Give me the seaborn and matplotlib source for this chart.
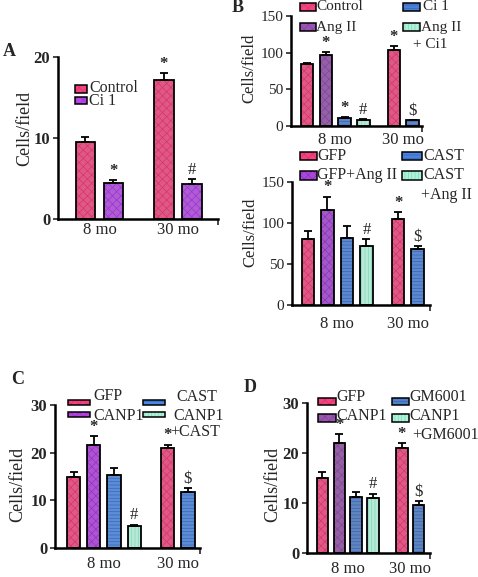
import numpy as np
import pandas as pd
import matplotlib
matplotlib.use("Agg")
import matplotlib.pyplot as plt
from matplotlib.colors import to_rgba
from matplotlib.patches import Rectangle
import seaborn as sns

# ---- values ----
A_age = ["8 mo", "8 mo", "30 mo", "30 mo"]
A_group = ["Control", "Ci 1", "Control", "Ci 1"]
A_cells = [9.5, 4.4, 17.2, 4.3]
A_err = [0.6, 0.4, 0.8, 0.6]
A_mark = ["", "*", "*", "#"]

B1_age = ["8 mo"] * 4 + ["30 mo"] * 2
B1_group = ["Control", "Ang II", "Ci 1", "Ang II + Ci1", "Control", "Ci 1"]
B1_cells = [84, 97, 11.4, 8.5, 104, 7.5]
B1_err = [2.5, 4, 1, 0.5, 4.5, 0.5]
B1_mark = ["", "*", "*", "#", "*", "$"]

B2_age = ["8 mo"] * 4 + ["30 mo"] * 2
B2_group = ["GFP", "GFP+Ang II", "CAST", "CAST+Ang II", "GFP", "CAST"]
B2_cells = [80, 116, 82, 72, 105, 68]
B2_err = [10, 16, 14, 8, 8, 4]
B2_mark = ["", "*", "", "#", "*", "$"]

C_age = ["8 mo"] * 4 + ["30 mo"] * 2
C_group = ["GFP", "CANP1", "CAST", "CANP1+CAST", "GFP", "CAST"]
C_cells = [14.8, 21.6, 15.4, 4.6, 20.9, 11.7]
C_err = [1.2, 1.8, 1.4, 0.3, 0.8, 0.8]
C_mark = ["", "*", "", "#", "*", "$"]

D_age = ["8 mo"] * 4 + ["30 mo"] * 2
D_group = ["GFP", "CANP1", "GM6001", "CANP1+GM6001", "GFP", "GM6001"]
D_cells = [15.0, 22.0, 11.2, 11.0, 21.1, 9.6]
D_err = [1.2, 1.8, 1.0, 0.9, 0.9, 0.8]
D_mark = ["", "*", "", "#", "*", "$"]

# ---- styles: face colour, hatch, hatch colour ----
PINK = ("#F2447E", "xxxx", "#E0306C")
GREEN = ("#AEF2D8", "|||||", "#80D8B8")

W, H = 478, 577

sns.set_theme(style="ticks")
plt.rcParams["font.family"] = ["Liberation Serif", "DejaVu Serif"]
plt.rcParams["hatch.linewidth"] = 0.5

fig = plt.figure(figsize=(W / 100, H / 100), dpi=100)


def box(l, t, r, b):
    return [l / W, 1 - b / H, (r - l) / W, (b - t) / H]


def ftext(x, y, s, **kw):
    kw.setdefault("va", "center")
    fig.text(x / W, 1 - y / H, s, **kw)


def legend_patch(x, y, w, h, st):
    r = Rectangle((x / W, 1 - (y + h / 2) / H), w / W, h / H, transform=fig.transFigure,
                  facecolor=st[0], edgecolor="black", linewidth=1.1, hatch=st[1])
    r._hatch_color = to_rgba(st[2])
    fig.patches.append(r)


PANELS = [
    dict(age=A_age, group=A_group, cells=A_cells, err=A_err, mark=A_mark,
         box=(58, 57, 218, 219), xlim=(-0.98, 4.73), gap=1.8, width=0.7,
         ylim=(0, 20), yticks=[0, 10, 20], ybold=True, xpad=2, tickfs=12,
         style={"Control": PINK, "Ci 1": ("#B64AE6", "xxxx", "#A030D8")},
         letter=("A", 9, 52), ylab=(25, 128, 13),
         legend=[(75, 89, 12, 8, "Control", "Control", 89, 88),
                 (75, 100, 12, 7, "Ci 1", "Ci 1", 89, 101)],
         extra=[], legfs=11.5),
    dict(age=B1_age, group=B1_group, cells=B1_cells, err=B1_err, mark=B1_mark,
         box=(291, 16, 422, 126), xlim=(-0.85, 6.12), gap=1.62, width=0.66,
         ylim=(0, 150), yticks=[0, 50, 100, 150], ybold=False, xpad=4, tickfs=11,
         style={"Control": PINK, "Ang II": ("#9A55B2", "xxxx", "#8444A0"),
                "Ci 1": ("#4A80D8", "-----", "#3466B8"), "Ang II + Ci1": GREEN},
         letter=("B", 238, 8), ylab=(249, 68, 12),
         legend=[(300, 7, 16, 8, "Control", "Control", 316, 7),
                 (300, 27, 16, 8, "Ang II", "Ang II", 316, 27),
                 (403, 7, 17, 8, "Ci 1", "Ci 1", 423, 7),
                 (403, 27, 17, 8, "Ang II + Ci1", "Ang II", 421, 27)],
         extra=[("+ Ci1", 413, 45)], legfs=11),
    dict(age=B2_age, group=B2_group, cells=B2_cells, err=B2_err, mark=B2_mark,
         box=(292, 182, 430, 305), xlim=(-0.82, 6.26), gap=1.62, width=0.66,
         ylim=(0, 150), yticks=[0, 50, 100, 150], ybold=False, xpad=8, tickfs=11,
         style={"GFP": PINK, "GFP+Ang II": ("#A847D8", "xxxx", "#9030C4"),
                "CAST": ("#4A84E0", "-----", "#3466B8"), "CAST+Ang II": GREEN},
         letter=None, ylab=(250, 232, 12),
         legend=[(300, 156, 17, 8, "GFP", "GFP", 317, 156),
                 (300, 175, 17, 9, "GFP+Ang II", "GFP+Ang II", 317, 175),
                 (402, 156, 20, 8, "CAST", "CAST", 423, 156),
                 (402, 175, 20, 9, "CAST+Ang II", "CAST", 423, 175)],
         extra=[("+Ang II", 421, 195)], legfs=11.5),
    dict(age=C_age, group=C_group, cells=C_cells, err=C_err, mark=C_mark,
         box=(55, 405, 200, 548), xlim=(-0.92, 6.26), gap=1.66, width=0.66,
         ylim=(0, 30), yticks=[0, 10, 20, 30], ybold=True, xpad=6, tickfs=12,
         style={"GFP": PINK, "CANP1": ("#B442E2", "xxxx", "#9C2CD0"),
                "CAST": ("#4A88E6", "-----", "#3468C0"), "CANP1+CAST": GREEN},
         letter=("C", 18, 379), ylab=(18, 484, 13),
         legend=[(68, 402, 22, 5, "GFP", "GFP", 93, 396),
                 (68, 414, 22, 5, "CANP1", "CANP1", 93, 416),
                 (143, 402, 22, 5, "CAST", "CAST", 176, 397),
                 (143, 414, 22, 5, "CANP1+CAST", "CANP1", 173, 416)],
         extra=[("+CAST", 170, 432)], legfs=11.5),
    dict(age=D_age, group=D_group, cells=D_cells, err=D_err, mark=D_mark,
         box=(307, 403, 430, 553), xlim=(-0.92, 6.4), gap=1.73, width=0.68,
         ylim=(0, 30), yticks=[0, 10, 20, 30], ybold=True, xpad=6, tickfs=12,
         style={"GFP": PINK, "CANP1": ("#9A56AE", "xxxx", "#84449C"),
                "GM6001": ("#5080CC", "-----", "#3A66B0"), "CANP1+GM6001": GREEN},
         letter=("D", 250, 387), ylab=(273, 484, 13),
         legend=[(318, 401, 18, 7, "GFP", "GFP", 336, 397),
                 (318, 418, 18, 8, "CANP1", "CANP1", 336, 416),
                 (392, 401, 17, 7, "GM6001", "GM6001", 409, 397),
                 (392, 418, 17, 8, "CANP1+GM6001", "CANP1", 409, 416)],
         extra=[("+GM6001", 412, 435)], legfs=11.5),
]


def draw_panel(cfg):
    df = pd.DataFrame({"age": cfg["age"], "group": cfg["group"], "cells": cfg["cells"],
                       "err": cfg["err"], "mark": cfg["mark"]})
    # bars sit side by side within an age, with a wider gap between the ages
    ages = list(dict.fromkeys(df["age"]))
    start, s = {}, 0.0
    for a in ages:
        start[a] = s
        s += (df["age"] == a).sum() - 1 + cfg["gap"]
    df["pos"] = df["age"].map(start) + df.groupby("age", sort=False).cumcount()

    style = cfg["style"]
    ax = fig.add_axes(box(*cfg["box"]))
    sns.barplot(data=df, x="pos", y="cells", hue="group", hue_order=list(style),
                palette={g: st[0] for g, st in style.items()}, native_scale=True,
                dodge=False, width=cfg["width"], errorbar=None, edgecolor="black",
                linewidth=1.3, legend=False, ax=ax)
    for p in ax.patches:
        cx = p.get_x() + p.get_width() / 2
        g = df.loc[(df["pos"] - cx).abs().idxmin(), "group"]
        p.set_hatch(style[g][1])
        p._hatch_color = to_rgba(style[g][2])

    ax.errorbar(df["pos"], df["cells"], yerr=[np.zeros(len(df)), df["err"]], fmt="none",
                ecolor="black", elinewidth=1.3, capsize=3, capthick=1.3, zorder=4)
    for r in df.itertuples():
        if r.mark:
            ax.annotate(r.mark, (r.pos, r.cells + r.err), xytext=(0, 1),
                        textcoords="offset points", ha="center", va="bottom",
                        fontsize=12, fontweight="bold" if r.mark == "*" else "normal")

    ax.set_xlim(cfg["xlim"])
    ax.set_ylim(cfg["ylim"])
    ax.set_yticks(cfg["yticks"])
    for lab in ax.get_yticklabels():
        lab.set_fontweight("bold" if cfg["ybold"] else "normal")
    centers = df.groupby("age", sort=False)["pos"].mean()
    ax.set_xticks(centers.values, labels=centers.index)
    ax.set_xticks([centers.iloc[0], cfg["xlim"][1]], minor=True)
    ax.tick_params(axis="x", which="major", length=0, pad=cfg["xpad"], labelsize=12)
    ax.tick_params(axis="x", which="minor", length=4, width=1.2, direction="out")
    ax.tick_params(axis="y", length=3.5, width=1.2, pad=2, labelsize=cfg["tickfs"])
    ax.set_xlabel("")
    ax.set_ylabel("")
    sns.despine(ax=ax)
    for sp in ("left", "bottom"):
        ax.spines[sp].set_linewidth(1.8)
        ax.spines[sp].set_color("black")

    x, y, fs = cfg["ylab"]
    ftext(x, y, "Cells/field", rotation=90, ha="center", fontsize=fs)
    if cfg["letter"]:
        t, lx, ly = cfg["letter"]
        ftext(lx, ly, t, ha="center", fontsize=13, fontweight="bold")
    for px, py, pw, ph, g, label, tx, ty in cfg["legend"]:
        legend_patch(px, py, pw, ph, style[g])
        ftext(tx, ty, label, ha="left", fontsize=cfg["legfs"])
    for s_, tx, ty in cfg["extra"]:
        ftext(tx, ty, s_, ha="left", fontsize=cfg["legfs"])


for cfg in PANELS:
    draw_panel(cfg)

fig.savefig("out.png", dpi=100)
